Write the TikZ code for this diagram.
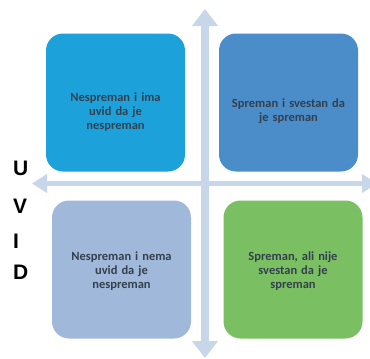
\documentclass[tikz,border=0pt]{standalone}
\usepackage{fontspec}
\setmainfont{Carlito}
\newfontfamily\letterfont{Liberation Sans}
\usetikzlibrary{arrows.meta}
\definecolor{axiscol}{HTML}{C7D6E8}
\definecolor{boxa}{HTML}{1DA1DA}
\definecolor{boxb}{HTML}{4A8DC9}
\definecolor{boxc}{HTML}{A0B8DA}
\definecolor{boxd}{HTML}{7AC063}
\definecolor{txtcol}{HTML}{34404E}
\newcommand\quadfont{\fontsize{12.5}{14}\selectfont\bfseries\setlength{\spaceskip}{4pt}}
\tikzset{
  quad/.style={rectangle, rounded corners=17pt, minimum width=139pt, minimum height=138pt, inner sep=0pt},
  quadtext/.style={text=txtcol, align=center, font=\quadfont},
  axisletter/.style={anchor=west, inner sep=0pt, font=\letterfont\fontsize{21}{21}\selectfont\bfseries}
}
\begin{document}
\begin{tikzpicture}[x=1pt, y=-1pt]
\clip (0,0) rectangle (370,359);
\coordinate (top) at (205,9);
\coordinate (bottom) at (205,358);
\coordinate (left) at (32,183.5);
\coordinate (right) at (377,183.5);

\draw[axiscol, line width=8pt, {Triangle[width=25pt,length=17pt]}-{Triangle[width=25pt,length=17pt]}] (bottom) -- (top);
\draw[axiscol, line width=5.5pt, {Triangle[width=18pt,length=15pt]}-{Triangle[width=18pt,length=15pt]}] (left) -- (right);

\node (TL) at (115.5,102.5) [quad, fill=boxa] {};
\node (TR) at (288.5,102.5) [quad, fill=boxb] {};
\node (BL) at (121.5,269.5) [quad, fill=boxc] {};
\node (BR) at (293,269.5) [quad, fill=boxd] {};

\node (TLt) at ([yshift=-10pt]TL.center) [quadtext] {Nespreman i ima\\uvid da je\\nespreman};
\node (TRt) at ([yshift=-9pt]TR.center) [quadtext] {Spreman i svestan da\\je spreman};
\node (BLt) at ([yshift=-1.5pt]BL.center) [quadtext] {Nespreman i nema\\uvid da je\\nespreman};
\node (BRt) at ([yshift=-1.5pt]BR.center) [quadtext] {Spreman, ali nije\\svestan da je\\spreman};

\node (U) at (13,168.5) [axisletter] {U};
\node (V) at (13,206.5) [axisletter] {V};
\node (I) at (13,241) [axisletter] {I};
\node (D) at (13,272.5) [axisletter] {D};
\end{tikzpicture}
\end{document}
